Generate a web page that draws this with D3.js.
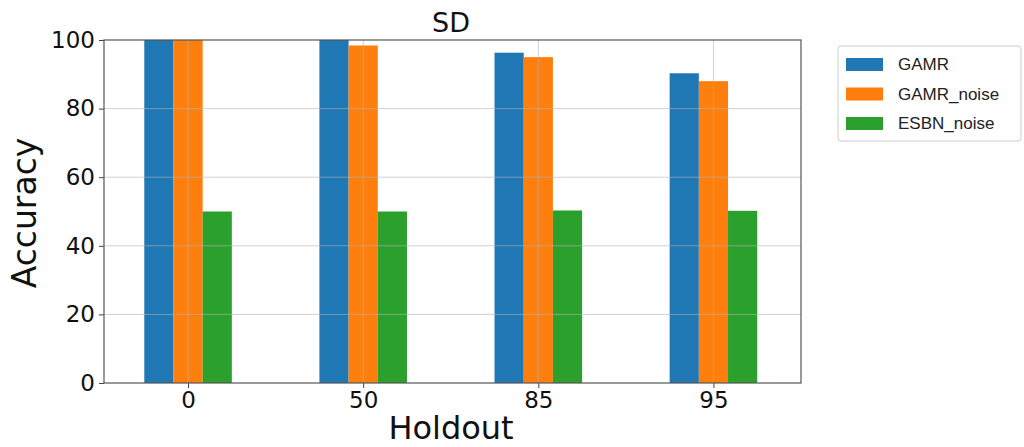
<!DOCTYPE html>
<html><head><meta charset="utf-8">
<script src="https://cdn.jsdelivr.net/npm/d3@7"></script>
<style>body{margin:0;background:#fff;}</style>
</head><body>
<svg id="c" width="1024" height="447"></svg>
<script>
const categories = ["0","50","85","95"];
const seriesNames = ["GAMR","GAMR_noise","ESBN_noise"];
const gamr = [100, 100, 96.3, 90.3];
const gamrNoise = [100, 98.4, 95.0, 88.0];
const esbnNoise = [50.0, 50.0, 50.3, 50.2];
const yTicks = [0,20,40,60,80,100];
const colors = ["#1f77b4","#ff7f0e","#2ca02c"];
const series = [gamr, gamrNoise, esbnNoise];

const svg = d3.select("#c");
const L=104, R=801, T=40, B=383;
const x = d3.scaleLinear().domain([-0.48,3.5]).range([L,R]);
const y = d3.scaleLinear().domain([0,100]).range([B,T]);
const bw = 1/6;

const g = svg.append("g");
series.forEach((vals,si)=>{
  g.selectAll(null).data(vals).enter().append("rect")
    .attr("x",(d,i)=>x(i+(si-1.5)*bw))
    .attr("width",x(bw)-x(0))
    .attr("y",d=>y(d))
    .attr("height",d=>y(0)-y(d))
    .attr("fill",colors[si]);
});

// grid
const grid = svg.append("g").attr("stroke","#b0b0b0").attr("stroke-opacity",0.6).attr("stroke-width",1);
yTicks.forEach(t=>{ if(t>0&&t<100) grid.append("line").attr("x1",L).attr("x2",R).attr("y1",y(t)).attr("y2",y(t)); });
categories.forEach((c,i)=>grid.append("line").attr("x1",x(i)).attr("x2",x(i)).attr("y1",T).attr("y2",B));

// axes
const ya = svg.append("g").attr("transform",`translate(${L},0)`).call(d3.axisLeft(y).tickValues(yTicks).tickSize(5).tickPadding(4));
ya.select(".domain").remove();
ya.selectAll("text").attr("font-family","DejaVu Sans").attr("font-size",23).attr("fill","#111");
ya.selectAll("line").attr("stroke","#444");
const xa = svg.append("g").attr("transform",`translate(0,${B})`).call(d3.axisBottom(x).tickValues([0,1,2,3]).tickFormat(i=>categories[i]).tickSize(5).tickPadding(4));
xa.select(".domain").remove();
xa.selectAll("text").attr("font-family","DejaVu Sans").attr("font-size",23).attr("fill","#111");
xa.selectAll("line").attr("stroke","#444");

svg.append("rect").attr("x",L).attr("y",T).attr("width",R-L).attr("height",B-T)
  .attr("fill","none").attr("stroke","#555").attr("stroke-width",1.2);

svg.append("text").attr("x",451).attr("y",32).attr("text-anchor","middle")
  .attr("font-family","DejaVu Sans").attr("font-size",27).attr("fill","#111").text("SD");
svg.append("text").attr("x",451).attr("y",439).attr("text-anchor","middle")
  .attr("font-family","DejaVu Sans").attr("font-size",32).attr("fill","#111").text("Holdout");
svg.append("text").attr("transform",`translate(36,213) rotate(-90)`).attr("text-anchor","middle")
  .attr("font-family","DejaVu Sans").attr("font-size",33).attr("fill","#111").text("Accuracy");

// legend
const lg = svg.append("g");
lg.append("rect").attr("x",838).attr("y",46).attr("width",183).attr("height",95).attr("rx",3)
  .attr("fill","#fff").attr("stroke","#ccc");
seriesNames.forEach((n,i)=>{
  const yy = 64 + i*29.5;
  lg.append("rect").attr("x",846).attr("y",yy-6).attr("width",37).attr("height",13).attr("fill",colors[i]);
  lg.append("text").attr("x",898).attr("y",yy+6).attr("font-family","Liberation Sans").attr("font-size",17)
    .attr("fill","#222").text(n);
});
</script>
</body></html>
